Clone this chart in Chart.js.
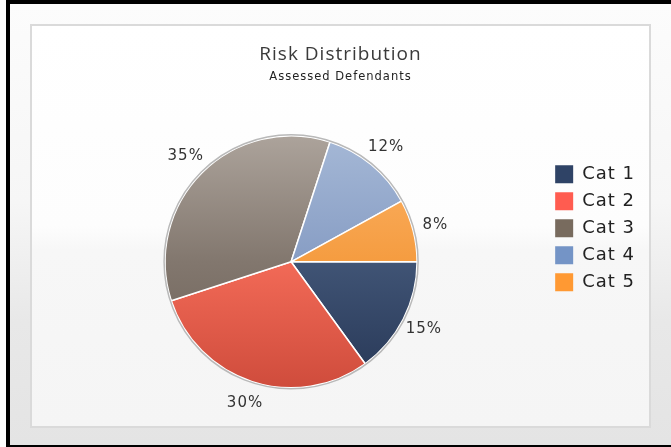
<!DOCTYPE html>
<html>
<head>
<meta charset="utf-8">
<script src="https://cdn.jsdelivr.net/npm/chart.js@4.4.0/dist/chart.umd.min.js"></script>
<style>
  html, body { margin: 0; padding: 0; }
  body { width: 671px; height: 447px; overflow: hidden; position: relative; background: #fff; }
  #frame {
    position: absolute; left: 6px; top: 0; width: 661px; height: 441px;
    border-top: 4px solid #000; border-left: 4px solid #000; border-bottom: 3px solid #000;
    background: linear-gradient(#fcfcfc 0%, #f6f6f6 45%, #e8e8e8 72%, #e4e4e4 100%);
  }
  #panel {
    position: absolute; left: 30px; top: 24px; width: 617px; height: 400px;
    border: 2px solid #dadada;
    background: linear-gradient(#ffffff 0%, #fdfdfd 50%, #f7f7f7 56%, #f5f5f5 100%);
  }
  canvas { position: absolute; left: 0; top: 0; }
</style>
</head>
<body>
<div id="frame"></div>
<div id="panel"></div>
<canvas id="riskChart" width="671" height="447"></canvas>
<script>
// chart data
const categories = ["Cat 1", "Cat 2", "Cat 3", "Cat 4", "Cat 5"];
const shares = [15, 30, 35, 12, 8];

// colours: legend swatches are flat, slices get a top-to-bottom gradient
const legendColors = ["#2f4366", "#ff5c50", "#786b5e", "#7494c6", "#ff9933"];
const sliceTop = ["#5a7092", "#ff9080", "#aca39b", "#a5b8d6", "#fcb46a"];
const sliceMid = ["#405475", "#f26a57", "#82776e", "#879dc4", "#f59c40"];
const sliceBottom = ["#273756", "#cf4c3c", "#6a5e54", "#6f86b2", "#ee8a28"];

const pieRadius = 126;

function sliceFill(context) {
  const i = context.dataIndex;
  const area = context.chart.chartArea;
  if (!area) return sliceMid[i];
  const cy = (area.top + area.bottom) / 2;
  const g = context.chart.ctx.createLinearGradient(0, cy - pieRadius, 0, cy + pieRadius);
  g.addColorStop(0, sliceTop[i]);
  g.addColorStop(0.5, sliceMid[i]);
  g.addColorStop(1, sliceBottom[i]);
  return g;
}

// the reference text is rendered with a little extra tracking
const tracking = {
  id: "tracking",
  beforeUpdate(chart) { chart.ctx.letterSpacing = "1px"; },
  beforeDraw(chart) { chart.ctx.letterSpacing = "1px"; }
};

// percent labels outside each slice + thin grey ring round the pie
const percentLabels = {
  id: "percentLabels",
  afterDatasetsDraw(chart) {
    const ctx = chart.ctx;
    const meta = chart.getDatasetMeta(0);
    ctx.save();
    const first = meta.data[0];
    ctx.beginPath();
    ctx.arc(first.x, first.y, first.outerRadius + 1, 0, Math.PI * 2);
    ctx.strokeStyle = "#b9b9b9";
    ctx.lineWidth = 1.5;
    ctx.stroke();

    ctx.font = '15px "DejaVu Sans"';
    ctx.fillStyle = "#333";
    ctx.textAlign = "center";
    ctx.textBaseline = "middle";
    meta.data.forEach((arc, i) => {
      const mid = (arc.startAngle + arc.endAngle) / 2;
      const d = arc.outerRadius + 23;
      ctx.fillText(shares[i] + "%", arc.x + Math.cos(mid) * d, arc.y + Math.sin(mid) * d);
    });
    ctx.restore();
  }
};

new Chart(document.getElementById("riskChart"), {
  type: "pie",
  data: {
    labels: categories,
    datasets: [
      {
        data: shares,
        backgroundColor: sliceFill,
        borderColor: "#ffffff",
        borderWidth: 1.5,
        radius: pieRadius,
      },
    ],
  },
  options: {
    responsive: false,
    animation: false,
    events: [],
    rotation: 90,
    layout: {
      padding: { left: 36, right: 26, top: 25, bottom: 8 },
    },
    plugins: {
      title: {
        display: true,
        text: "Risk Distribution",
        color: "#3a3a3a",
        font: { family: "Open Sans", size: 19, weight: "normal" },
        padding: { top: 18, bottom: 2 },
      },
      subtitle: {
        display: true,
        text: "Assessed Defendants",
        color: "#222",
        font: { family: "DejaVu Sans", size: 11.5 },
        padding: { top: 2, bottom: 1 },
      },
      legend: {
        position: "right",
        align: "start",
        title: {
          display: true,
          text: "",
          font: { size: 1 },
          padding: { top: 130, bottom: 0 },
        },
        labels: {
          boxWidth: 18,
          boxHeight: 18,
          padding: 9,
          color: "#222",
          font: { family: "DejaVu Sans", size: 18 },
          generateLabels() {
            return categories.map((c, i) => ({
              text: c,
              fillStyle: legendColors[i],
              strokeStyle: legendColors[i],
              lineWidth: 0,
              hidden: false,
              index: i,
              fontColor: "#222",
            }));
          },
        },
      },
      tooltip: { enabled: false },
    },
  },
  plugins: [tracking, percentLabels],
});
</script>
</body>
</html>
